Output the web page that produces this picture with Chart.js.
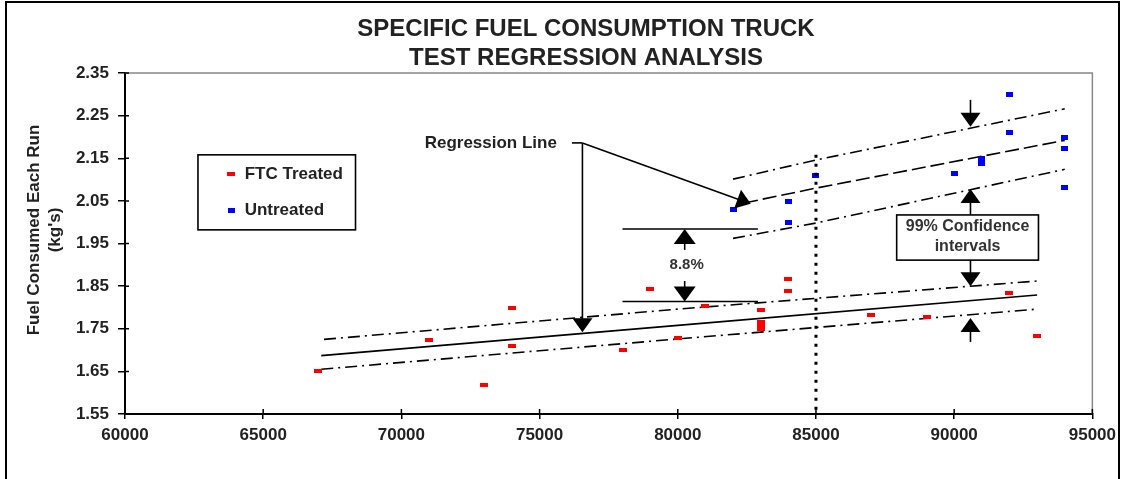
<!DOCTYPE html>
<html>
<head>
<meta charset="utf-8">
<script src="https://cdn.jsdelivr.net/npm/chart.js@4.4.1/dist/chart.umd.min.js"></script>
<style>
  html, body { margin: 0; padding: 0; background: #fff; }
  #wrap { width: 1122px; height: 479px; }
</style>
</head>
<body>
<div id="wrap"><canvas id="fuelChart" width="1122" height="479"></canvas></div>
<script>
// ---- data ----
const TITLE = ['SPECIFIC FUEL CONSUMPTION TRUCK', 'TEST REGRESSION ANALYSIS'];
const Y_TITLE = ['Fuel Consumed Each Run', "(kg's)"];
const X_TICKS = [60000, 65000, 70000, 75000, 80000, 85000, 90000, 95000];
const Y_TICKS = [1.55, 1.65, 1.75, 1.85, 1.95, 2.05, 2.15, 2.25, 2.35];

const FTC_X = [67000, 71000, 73000, 74000, 74000, 78000, 79000, 80000, 81000, 83000, 83000, 83000, 83000, 84000, 84000, 87000, 89000, 92000, 93000];
const FTC_Y = [1.652, 1.723, 1.619, 1.798, 1.709, 1.700, 1.843, 1.728, 1.803, 1.795, 1.767, 1.758, 1.750, 1.866, 1.838, 1.782, 1.778, 1.835, 1.734];

const UNT_X = [82000, 84000, 84000, 85000, 90000, 91000, 91000, 92000, 92000, 94000, 94000, 94000];
const UNT_Y = [2.029, 2.048, 2.000, 2.109, 2.115, 2.150, 2.137, 2.299, 2.210, 2.199, 2.174, 2.081];

// regression lines and 99% bands
const LOW_REG_X = [67100, 80000, 93000];
const LOW_REG_Y = [1.687, 1.758, 1.829];
const LOW_HI_X = [67200, 80000, 93000];
const LOW_HI_Y = [1.725, 1.796, 1.862];
const LOW_LO_X = [67100, 80000, 93000];
const LOW_LO_Y = [1.655, 1.726, 1.796];

const UP_REG_X = [82400, 85000, 94000];
const UP_REG_Y = [2.045, 2.080, 2.192];
const UP_HI_X = [82000, 85000, 94000];
const UP_HI_Y = [2.101, 2.146, 2.266];
const UP_LO_X = [82000, 85000, 94000];
const UP_LO_Y = [1.962, 1.998, 2.124];

// annotation anchors, in data units
const DIVIDER = { x: 85000, top: 2.158 };
const GAP = { x0: 78000, x1: 82900, hi: 1.984, lo: 1.814, arrowX: 80250, upTail: 1.935, downTail: 1.862, textY: 1.900, text: '8.8%' };
const REG_NOTE = { text: 'Regression Line', x: 76550, y: 2.186, stubX: 76170, tipLow: 1.742, tipUp: [82640, 2.043] };
const CONF = { x: 90590, x0: 87920, x1: 93050, top: 2.017, bottom: 1.911, text: ['99% Confidence', 'intervals'],
  arrows: [[2.017, 2.078], [2.287, 2.224], [1.911, 1.850], [1.719, 1.775]] };
const LEGEND = { x0: 62640, x1: 68340, top: 2.158, bottom: 1.982, markX: 63850, textX: 64330, rows: [2.113, 2.027] };

const FONT = '"Liberation Sans", Arial, sans-serif';

function makeMark(w, h, color) {
  const c = document.createElement('canvas');
  c.width = w;
  c.height = h;
  const g = c.getContext('2d');
  g.fillStyle = color;
  g.fillRect(0, 0, w, h);
  return c;
}
const redMark = makeMark(8, 4, '#ff0000');
const blueMark = makeMark(7, 5, '#0000ff');

const pts = (xs, ys) => xs.map((x, i) => ({ x: x, y: ys[i] }));

function lineSet(xs, ys, dash) {
  return {
    data: pts(xs, ys),
    showLine: true,
    borderColor: '#000',
    borderWidth: 1.6,
    borderDash: dash,
    pointRadius: 0,
    fill: false,
  };
}

function arrow(ctx, x1, y1, x2, y2, len, half) {
  const a = Math.atan2(y2 - y1, x2 - x1);
  ctx.beginPath();
  ctx.moveTo(x1, y1);
  ctx.lineTo(x2 - Math.cos(a) * len * 0.6, y2 - Math.sin(a) * len * 0.6);
  ctx.stroke();
  ctx.beginPath();
  ctx.moveTo(x2, y2);
  ctx.lineTo(x2 - Math.cos(a) * len - Math.sin(a) * half, y2 - Math.sin(a) * len + Math.cos(a) * half);
  ctx.lineTo(x2 - Math.cos(a) * len + Math.sin(a) * half, y2 - Math.sin(a) * len - Math.cos(a) * half);
  ctx.closePath();
  ctx.fill();
}

const decor = {
  id: 'decor',
  beforeDraw(chart) {
    const ctx = chart.ctx;
    ctx.save();
    ctx.fillStyle = '#fff';
    ctx.fillRect(0, 0, chart.width, chart.height);
    ctx.strokeStyle = '#000';
    ctx.lineWidth = 2;
    ctx.strokeRect(6, 2, 1113, 500);
    ctx.restore();
  },
  afterDatasetsDraw(chart) {
    const ctx = chart.ctx;
    const xs = chart.scales.x;
    const ys = chart.scales.y;
    const px = (v) => xs.getPixelForValue(v);
    const py = (v) => ys.getPixelForValue(v);
    ctx.save();
    ctx.strokeStyle = '#000';
    ctx.fillStyle = '#000';

    // dotted divider at 85000
    ctx.lineWidth = 3;
    ctx.setLineDash([3, 6]);
    ctx.beginPath();
    ctx.moveTo(px(DIVIDER.x), py(DIVIDER.top));
    ctx.lineTo(px(DIVIDER.x), ys.bottom);
    ctx.stroke();
    ctx.setLineDash([]);

    // 8.8% gap marker
    ctx.lineWidth = 1.6;
    [GAP.hi, GAP.lo].forEach((v) => {
      ctx.beginPath();
      ctx.moveTo(px(GAP.x0), py(v));
      ctx.lineTo(px(GAP.x1), py(v));
      ctx.stroke();
    });
    arrow(ctx, px(GAP.arrowX), py(GAP.upTail), px(GAP.arrowX), py(GAP.hi), 15, 11);
    arrow(ctx, px(GAP.arrowX), py(GAP.downTail), px(GAP.arrowX), py(GAP.lo), 15, 11);
    ctx.font = 'bold 15px ' + FONT;
    ctx.fillStyle = '#333';
    ctx.textAlign = 'center';
    ctx.textBaseline = 'middle';
    ctx.fillText(GAP.text, px(GAP.arrowX) + 2, py(GAP.textY));
    ctx.fillStyle = '#000';

    // regression line callout
    const cx = px(REG_NOTE.x);
    const cy = py(REG_NOTE.y);
    ctx.beginPath();
    ctx.moveTo(px(REG_NOTE.stubX), cy);
    ctx.lineTo(cx, cy);
    ctx.stroke();
    arrow(ctx, cx, cy, cx, py(REG_NOTE.tipLow), 14, 10);
    arrow(ctx, cx, cy, px(REG_NOTE.tipUp[0]), py(REG_NOTE.tipUp[1]), 14, 10);
    ctx.font = 'bold 17px ' + FONT;
    ctx.fillStyle = '#222';
    ctx.textAlign = 'right';
    ctx.fillText(REG_NOTE.text, px(REG_NOTE.stubX) - 15, cy);
    ctx.fillStyle = '#000';

    // confidence interval box and arrows
    const bx = px(CONF.x);
    CONF.arrows.forEach((a) => arrow(ctx, bx, py(a[0]), bx, py(a[1]), 14, 10));
    const b0 = px(CONF.x0), b1 = px(CONF.x1), bt = py(CONF.top), bb = py(CONF.bottom);
    ctx.fillStyle = '#fff';
    ctx.fillRect(b0, bt, b1 - b0, bb - bt);
    ctx.lineWidth = 1.6;
    ctx.strokeRect(b0, bt, b1 - b0, bb - bt);
    ctx.fillStyle = '#333';
    ctx.font = 'bold 16px ' + FONT;
    ctx.textAlign = 'center';
    ctx.fillText(CONF.text[0], (b0 + b1) / 2, bt + 12);
    ctx.fillText(CONF.text[1], (b0 + b1) / 2, bt + 32);

    // legend
    const l0 = px(LEGEND.x0), l1 = px(LEGEND.x1), lt = py(LEGEND.top), lb = py(LEGEND.bottom);
    ctx.strokeStyle = '#000';
    ctx.lineWidth = 1.6;
    ctx.strokeRect(l0, lt, l1 - l0, lb - lt);
    const labels = [chart.data.datasets[0].label, chart.data.datasets[1].label];
    const marks = [redMark, blueMark];
    ctx.font = 'bold 17px ' + FONT;
    ctx.fillStyle = '#222';
    ctx.textAlign = 'left';
    LEGEND.rows.forEach((v, i) => {
      const m = marks[i];
      ctx.drawImage(m, Math.round(px(LEGEND.markX) - m.width / 2), Math.round(py(v) - m.height / 2));
      ctx.fillText(labels[i], px(LEGEND.textX), py(v));
    });
    ctx.restore();
  },
  afterDraw(chart) {
    const ctx = chart.ctx;
    const area = chart.chartArea;
    const xs = chart.scales.x;
    const ys = chart.scales.y;
    ctx.save();
    // grey top / right frame of plot area
    ctx.strokeStyle = '#888';
    ctx.lineWidth = 1.5;
    ctx.beginPath();
    ctx.moveTo(area.left, area.top);
    ctx.lineTo(area.right, area.top);
    ctx.lineTo(area.right, area.bottom);
    ctx.stroke();
    // inner half of crossing tick marks
    ctx.strokeStyle = '#000';
    ctx.lineWidth = 1.5;
    ctx.beginPath();
    X_TICKS.forEach((v) => {
      const x = xs.getPixelForValue(v);
      ctx.moveTo(x, area.bottom);
      ctx.lineTo(x, area.bottom - 5);
    });
    Y_TICKS.forEach((v) => {
      const y = ys.getPixelForValue(v);
      ctx.moveTo(area.left, y);
      ctx.lineTo(area.left + 4, y);
    });
    ctx.stroke();
    // title
    ctx.fillStyle = '#222';
    ctx.textAlign = 'center';
    ctx.textBaseline = 'middle';
    ctx.font = 'bold 24px ' + FONT;
    ctx.fillText(TITLE[0], 586, 29);
    ctx.fillText(TITLE[1], 586, 58);
    // y axis title
    ctx.font = 'bold 17px ' + FONT;
    ctx.save();
    ctx.translate(34, 230);
    ctx.rotate(-Math.PI / 2);
    ctx.fillText(Y_TITLE[0], 0, 0);
    ctx.restore();
    ctx.save();
    ctx.translate(55, 230);
    ctx.rotate(-Math.PI / 2);
    ctx.fillText(Y_TITLE[1], 0, 0);
    ctx.restore();
    ctx.restore();
  },
};

const tickFont = { family: FONT, size: 17, weight: 'bold' };

new Chart(document.getElementById('fuelChart').getContext('2d'), {
  type: 'scatter',
  data: {
    datasets: [
      { label: 'FTC Treated', data: pts(FTC_X, FTC_Y), pointStyle: redMark, pointRadius: 4, showLine: false },
      { label: 'Untreated', data: pts(UNT_X, UNT_Y), pointStyle: blueMark, pointRadius: 4, showLine: false },
      lineSet(LOW_REG_X, LOW_REG_Y, []),
      lineSet(LOW_HI_X, LOW_HI_Y, [12, 5, 2, 5]),
      lineSet(LOW_LO_X, LOW_LO_Y, [12, 5, 2, 5]),
      lineSet(UP_REG_X, UP_REG_Y, [14, 5]),
      lineSet(UP_HI_X, UP_HI_Y, [12, 5, 2, 5]),
      lineSet(UP_LO_X, UP_LO_Y, [12, 5, 2, 5]),
    ],
  },
  options: {
    responsive: false,
    animation: false,
    devicePixelRatio: 1,
    layout: { padding: { top: 73, right: 29, bottom: 0, left: 0 } },
    plugins: { legend: { display: false }, tooltip: { enabled: false }, title: { display: false } },
    scales: {
      x: {
        type: 'linear',
        min: 60000,
        max: 95000,
        afterFit: (s) => { s.height = 65; },
        afterBuildTicks: (s) => { s.ticks = X_TICKS.map((v) => ({ value: v })); },
        grid: { display: true, drawOnChartArea: false, drawTicks: true, tickLength: 5, color: '#000', lineWidth: 1.5 },
        border: { display: true, color: '#000', width: 2 },
        ticks: { color: '#222', font: tickFont, padding: 6, maxRotation: 0, autoSkip: false, callback: (v) => String(v) },
      },
      y: {
        type: 'linear',
        min: 1.55,
        max: 2.35,
        afterFit: (s) => { s.width = 125; },
        afterBuildTicks: (s) => { s.ticks = Y_TICKS.map((v) => ({ value: v })); },
        grid: { display: true, drawOnChartArea: false, drawTicks: true, tickLength: 7, color: '#000', lineWidth: 1.5 },
        border: { display: true, color: '#000', width: 2 },
        ticks: { color: '#222', font: tickFont, padding: 9, autoSkip: false, callback: (v) => Number(v).toFixed(2) },
      },
    },
  },
  plugins: [decor],
});
</script>
</body>
</html>
